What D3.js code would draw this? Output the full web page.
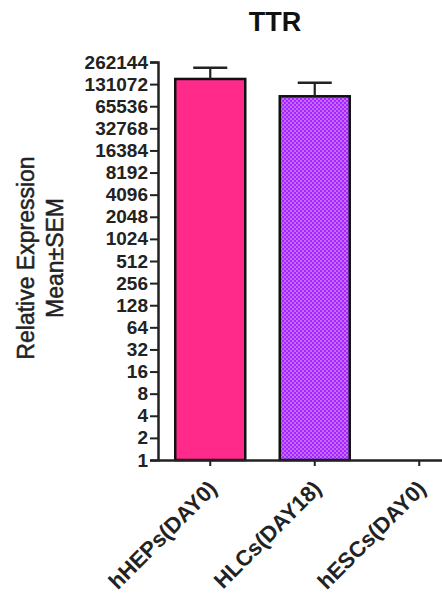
<!DOCTYPE html>
<html>
<head>
<meta charset="utf-8">
<script src="https://cdn.jsdelivr.net/npm/d3@7"></script>
<style>
  body { margin: 0; background: #fff; }
  text { font-family: "Liberation Sans", Arial, sans-serif; }
</style>
</head>
<body>
<div id="chart-area"></div>
<script>
// data
const groups = ["hHEPs(DAY0)", "HLCs(DAY18)", "hESCs(DAY0)"]
const means = [154000, 89500, 1]
const sems = [65000, 47500, 0]
const tickValues = [1, 2, 4, 8, 16, 32, 64, 128, 256, 512, 1024, 2048, 4096, 8192,
  16384, 32768, 65536, 131072, 262144]

const W = 442, H = 597
const svg = d3.select("#chart-area").append("svg")
  .attr("width", W)
  .attr("height", H)

// fills
const defs = svg.append("defs")
const pat = defs.append("pattern")
  .attr("id", "dots")
  .attr("patternUnits", "userSpaceOnUse")
  .attr("width", 4)
  .attr("height", 4)
pat.append("rect").attr("width", 4).attr("height", 4).attr("fill", "#a526ff")
pat.append("rect").attr("width", 2).attr("height", 2).attr("fill", "#c46aff")
pat.append("rect").attr("x", 2).attr("y", 2).attr("width", 2).attr("height", 2).attr("fill", "#c46aff")
const fills = ["#ff2a8a", "url(#dots)", "#888"]

// scales
const x = d3.scaleBand()
  .domain(groups)
  .range([158, 158 + 3 * 104.5])
  .paddingInner(0.33)
  .paddingOuter(0.165)
const y = d3.scaleLog().base(2)
  .domain([1, 262144])
  .range([460, 62])

// title
svg.append("text")
  .attr("x", 275)
  .attr("y", 31)
  .attr("text-anchor", "middle")
  .attr("font-size", "27px")
  .attr("font-weight", "bold")
  .attr("fill", "#111")
  .text("TTR")

// bars
svg.selectAll("rect.bar")
  .data(groups.filter((g, i) => means[i] > 1))
  .enter().append("rect")
  .attr("class", "bar")
  .attr("x", d => x(d))
  .attr("width", x.bandwidth())
  .attr("y", d => y(means[groups.indexOf(d)]))
  .attr("height", d => y(1) - y(means[groups.indexOf(d)]))
  .attr("fill", d => fills[groups.indexOf(d)])
  .attr("stroke", "#111")
  .attr("stroke-width", 2.5)

// error bars (upper only)
const errs = svg.append("g")
groups.forEach((g, i) => {
  if (sems[i] <= 0) return
  const cx = x(g) + x.bandwidth() / 2
  errs.append("line")
    .attr("x1", cx).attr("x2", cx)
    .attr("y1", y(means[i])).attr("y2", y(means[i] + sems[i]))
    .attr("stroke", "#222").attr("stroke-width", 2.2)
  errs.append("line")
    .attr("x1", cx - 17).attr("x2", cx + 17)
    .attr("y1", y(means[i] + sems[i])).attr("y2", y(means[i] + sems[i]))
    .attr("stroke", "#222").attr("stroke-width", 2.5)
})

// y axis
const yAxis = svg.append("g")
  .attr("transform", "translate(158,0)")
  .call(d3.axisLeft(y).tickValues(tickValues).tickFormat(d3.format("d")).tickSize(8).tickPadding(2))
yAxis.select(".domain").attr("stroke", "#222").attr("stroke-width", 2.5)
yAxis.selectAll(".tick line").attr("stroke", "#222").attr("stroke-width", 2)
yAxis.selectAll(".tick text")
  .attr("font-size", "19px")
  .attr("font-weight", "bold")
  .attr("fill", "#222")
  .attr("font-family", "'Liberation Sans', Arial, sans-serif")

// x axis
const xAxis = svg.append("g")
  .attr("transform", "translate(0,460)")
  .call(d3.axisBottom(x).tickSize(6).tickSizeOuter(0))
xAxis.select(".domain").attr("stroke", "#222").attr("stroke-width", 2.5)
xAxis.selectAll(".tick line").attr("stroke", "#222").attr("stroke-width", 2)
xAxis.selectAll(".tick text")
  .attr("font-size", "22px")
  .attr("font-weight", "bold")
  .attr("fill", "#222")
  .attr("font-family", "'Liberation Sans', Arial, sans-serif")
  .attr("text-anchor", "end")
  .attr("transform", "translate(8,30) rotate(-45)")
  .attr("dy", 0)
  .attr("y", 0)

// y label
const yl = svg.append("text")
  .attr("transform", "translate(0,258) rotate(-90)")
  .attr("text-anchor", "middle")
  .attr("font-size", "23px")
  .attr("fill", "#222")
  .attr("stroke", "#222")
  .attr("stroke-width", 0.5)
yl.append("tspan").attr("x", 0).attr("y", 34).text("Relative Expression")
yl.append("tspan").attr("x", 0).attr("y", 63).text("Mean\u00B1SEM")
</script>
</body>
</html>
